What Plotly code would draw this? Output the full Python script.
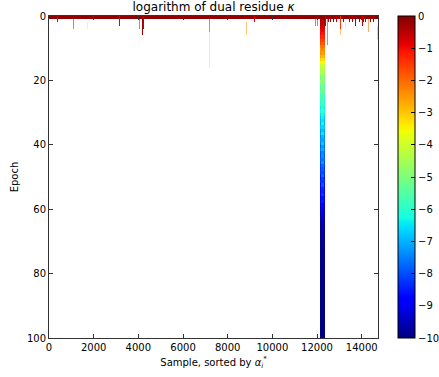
import math
import plotly.graph_objects as go

# ---------------- data ----------------
n_samples = 14730
n_epochs = 100
bin_width = 45  # samples per drawn column (~1 screen pixel)

# value of the first epoch, across all samples
first_epoch_value = -0.15

# the dense band of samples (sorted index range) that keeps converging
band_core_samples = [12150, 12195, 12240]
band_side_samples = [12105, 12285]
band_core = [-0.1, -0.5, -0.6, -0.8, -0.9, -1.1, -1.4, -1.6, -1.9, -2.1,
             -2.3, -2.6, -2.9, -3.3, -3.6, -3.9, -4.2, -4.4, -4.6, -4.7,
             -4.9, -5.0, -5.1, -5.3, -5.5, -5.6, -5.4, -5.8, -6.0, -5.7,
             -6.1, -6.3, -6.5, -6.2, -6.6, -6.8, -6.4, -6.9, -7.1, -6.7,
             -7.2, -7.0, -7.4, -7.3, -7.6, -7.2, -7.7, -7.8, -8.0, -7.7,
             -8.1, -8.2, -7.9, -8.3, -8.4, -8.2, -8.6, -8.5, -8.8, -8.9,
             -9.0, -9.2, -9.3, -9.4, -9.5, -9.6, -9.5, -9.7, -9.6, -9.7,
             -9.8, -9.7, -9.8, -9.8, -9.9, -9.8, -9.9, -9.9, -9.9, -10.0,
             -9.9, -9.9, -10.0, -10.0, -9.9, -10.0, -10.0, -10.0, -9.9, -10.0,
             -10.0, -10.0, -10.0, -9.9, -10.0, -10.0, -10.0, -10.0, -10.0, -10.0]
band_side = [-0.1, -0.3, -0.5, -0.7, -1.0, -1.0, -1.2, -1.5, -1.7, -2.2,
             -2.5, -2.4, -2.7, -3.1, -3.5, -4.1, -4.5, -4.3, -4.9, -5.2,
             -4.8, -5.4, -5.6, -5.2, -5.9, -5.7, -6.2, -6.0, -6.4, -6.3,
             -6.6, -6.8, -6.9, -7.1, -6.8, -7.3, -7.2, -7.5, -7.3, -7.6,
             -7.8, -7.5, -7.9, -8.0, -7.8, -8.1, -8.2, -8.3, -8.2, -8.5,
             -8.6, -8.4, -8.7, -8.8, -8.9, -8.9, -9.1, -9.2, -9.3, -9.4,
             -9.5, -9.6, -9.7, -9.8, -9.8, -9.9, -9.9, -9.9, -10.0, -10.0,
             -10.0, -10.0, -10.0, -10.0, -10.0, -10.0, -10.0, -10.0, -10.0, -10.0,
             -10.0, -10.0, -10.0, -10.0, -10.0, -10.0, -10.0, -10.0, -10.0, -10.0,
             -10.0, -10.0, -10.0, -10.0, -10.0, -10.0, -10.0, -10.0, -10.0, -10.0]

# solid short spikes: sample, first epoch, last epoch, value
spike_sample = [4150, 4200, 3170, 9200, 360, 12500, 12590, 12725, 12835, 13170,
                13410, 13560, 13710, 13860, 14025, 14080, 14160, 14385, 14520, 13040,
                12350]
spike_from = [0, 0, 0, 0, 0, 0, 0, 0, 0, 0,
              0, 0, 0, 0, 0, 0, 0, 0, 0, 0,
              0]
spike_to = [6.0, 4.0, 2.5, 1.8, 1.5, 2.0, 1.5, 2.0, 1.5, 2.0,
            1.5, 2.0, 2.5, 1.5, 2.5, 2.0, 1.5, 2.0, 1.5, 4.0,
            3.0]
spike_value = [-0.3, -0.5, -0.9, -0.8, -0.9, -0.3, -0.4, -0.3, -0.5, -0.4,
               -0.3, -0.5, -0.4, -0.3, -0.6, -0.4, -0.5, -0.3, -0.4, -1.5,
               -0.6]

# faint (pale) spikes
faint_sample = [1080, 1710, 4010, 7160, 7160, 8820, 11885, 11993, 12440, 13260,
                14295, 14675, 13040]
faint_from = [0, 2.4, 0, 0, 5, 2.4, 0, 0, 0, 2.4,
              0, 3.5, 4.0]
faint_to = [3.8, 3.2, 3.5, 5, 15.3, 5.7, 2.4, 3.0, 8.5, 3.3,
            4.5, 7.0, 5.5]
faint_value = [-0.9, -3.5, -0.8, -1.0, -3.9, -2.5, -0.8, -0.8, -1.0, -3.5,
               -2.0, -2.8, -2.5]

x_ticks = [0, 2000, 4000, 6000, 8000, 10000, 12000, 14000]
y_ticks = [0, 20, 40, 60, 80, 100]
cbar_ticks = [0, -1, -2, -3, -4, -5, -6, -7, -8, -9, -10]

# ---------------- build grids ----------------
n_cols = math.ceil(n_samples / bin_width)


def empty():
    return [[None] * n_cols for _ in range(n_epochs)]


def col(s):
    return min(n_cols - 1, int(s // bin_width))


def paint(grid, s, a, b, v):
    c = col(s)
    r0 = int(math.floor(a))
    r1 = max(r0 + 1, int(math.ceil(b)))
    for r in range(r0, min(r1, n_epochs)):
        grid[r][c] = v


z_main = empty()
for c in range(n_cols):
    z_main[0][c] = first_epoch_value
for s, a, b, v in zip(spike_sample, spike_from, spike_to, spike_value):
    paint(z_main, s, a, b, v)
for s in band_side_samples:
    for r, v in enumerate(band_side):
        z_main[r][col(s)] = v
for s in band_core_samples:
    for r, v in enumerate(band_core):
        z_main[r][col(s)] = v

z_faint = empty()
for s, a, b, v in zip(faint_sample, faint_from, faint_to, faint_value):
    paint(z_faint, s, a, b, v)

# matplotlib "jet" colormap
_jet = {
    'r': [(0, 0), (0.35, 0), (0.66, 1), (0.89, 1), (1, 0.5)],
    'g': [(0, 0), (0.125, 0), (0.375, 1), (0.64, 1), (0.91, 0), (1, 0)],
    'b': [(0, 0.5), (0.11, 1), (0.34, 1), (0.65, 0), (1, 0)],
}


def _interp(pts, t):
    for (x0, y0), (x1, y1) in zip(pts[:-1], pts[1:]):
        if x0 <= t <= x1:
            return y0 + (y1 - y0) * (t - x0) / (x1 - x0) if x1 > x0 else y1
    return pts[-1][1]


stops = sorted(set([p[0] for k in _jet for p in _jet[k]]))
jet = []
for t in stops:
    rgb = [round(255 * _interp(_jet[k], t)) for k in 'rgb']
    jet.append([t, 'rgb(%d,%d,%d)' % tuple(rgb)])

FONT = 'DejaVu Sans'
W, H = 439, 377

fig = go.Figure()
fig.add_trace(go.Heatmap(
    z=z_faint, x0=bin_width / 2, dx=bin_width, y0=0.5, dy=1,
    zmin=-10, zmax=0, colorscale=jet, showscale=False, opacity=0.55,
    hoverongaps=False,
))
fig.add_trace(go.Heatmap(
    z=z_main, x0=bin_width / 2, dx=bin_width, y0=0.5, dy=1,
    zmin=-10, zmax=0, colorscale=jet, hoverongaps=False,
    colorbar=dict(
        x=1.0608, xanchor='left', xref='paper', thickness=17,
        y=1, yanchor='top', len=1, lenmode='fraction',
        outlinecolor='black', outlinewidth=1,
        tickvals=cbar_ticks, ticks='inside', ticklen=4, tickcolor='black',
        tickfont=dict(family=FONT, size=10, color='black'),
        xpad=0, ypad=0,
    ),
))

axis_common = dict(
    showgrid=False, zeroline=False, showline=True, linecolor='#333',
    linewidth=1, mirror='ticks', ticks='inside', ticklen=4,
    tickcolor='#333', tickfont=dict(family=FONT, size=10, color='black'),
)
fig.update_xaxes(range=[0, n_samples], tickvals=x_ticks,
                 ticktext=[str(v) for v in x_ticks],
                 title=dict(text='Sample, sorted by <i>α</i><sub><i>i</i></sub><sup>*</sup>',
                            font=dict(family=FONT, size=10, color='black'),
                            standoff=6),
                 **axis_common)
fig.update_yaxes(range=[n_epochs, 0], tickvals=y_ticks,
                 ticktext=[str(v) for v in y_ticks],
                 title=dict(text='Epoch', font=dict(family=FONT, size=10, color='black'),
                            standoff=6),
                 **axis_common)
fig.update_layout(
    width=W, height=H,
    margin=dict(l=49, r=61, t=16, b=39, autoexpand=False),
    paper_bgcolor='white', plot_bgcolor='white',
    title=dict(text='logarithm of dual residue <i>κ</i>', x=0.5, xref='paper',
               y=1 - 7 / H, yref='container', yanchor='middle',
               font=dict(family=FONT, size=12, color='black')),
    showlegend=False,
)
fig.write_html('out.html',
               config={'displayModeBar': False},
               post_script="document.body.style.margin='0';"
                           "document.body.style.overflow='hidden';")
